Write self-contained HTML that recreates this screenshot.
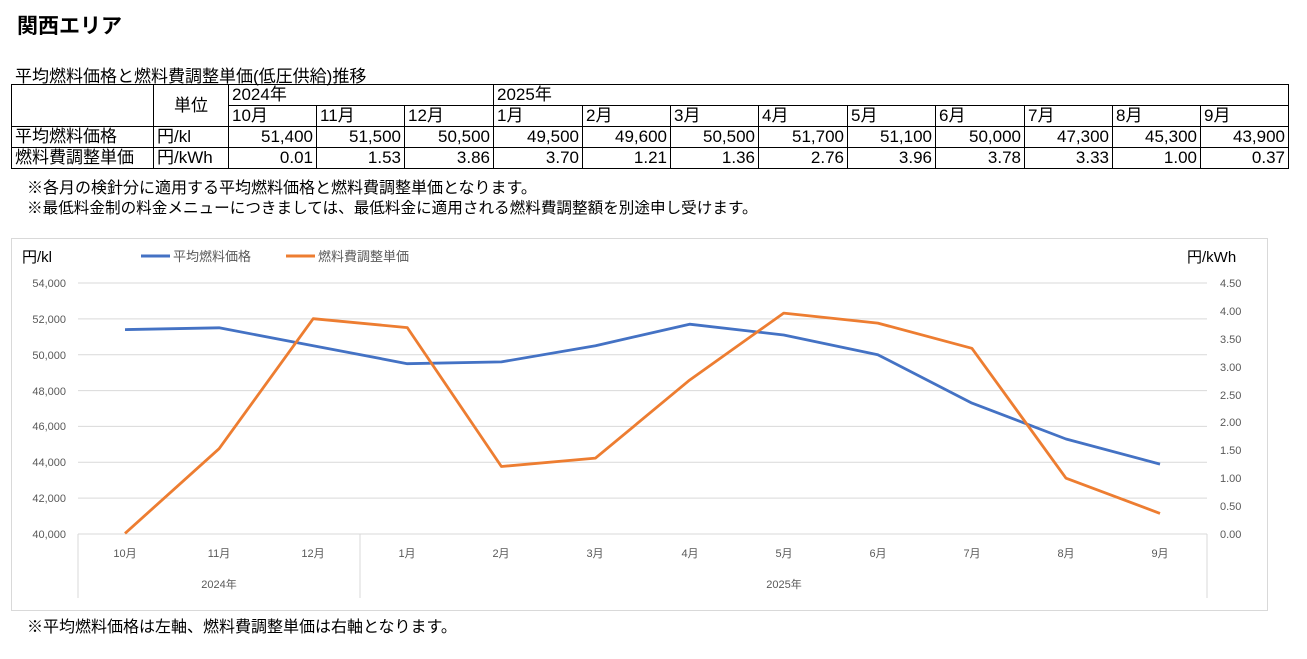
<!DOCTYPE html>
<html><head><meta charset="utf-8"><style>
body{margin:0;background:#fff;width:1307px;height:659px;overflow:hidden;font-family:"Liberation Sans","Noto Sans CJK JP",sans-serif;position:relative}
.t{position:absolute;white-space:nowrap;color:#000}
table{position:absolute;left:11px;top:84px;border-collapse:collapse;font-size:17px;table-layout:fixed}
td{border:1.5px solid #000;padding:0 3px;height:20px;line-height:20px;white-space:nowrap;overflow:hidden}
td.r{text-align:right}
</style></head><body>
<div class="t" style="left:17px;top:10px;font-size:21px;font-weight:bold">関西エリア</div>
<div class="t" style="left:15px;top:62px;font-size:17px">平均燃料価格と燃料費調整単価(低圧供給)推移</div>
<table>
<colgroup><col style="width:142px"><col style="width:75px"><col style="width:88px"><col style="width:88px"><col style="width:89px"><col style="width:89px"><col style="width:88px"><col style="width:88px"><col style="width:89px"><col style="width:88px"><col style="width:89px"><col style="width:88px"><col style="width:88px"><col style="width:88px"></colgroup>
<tr><td rowspan="2"></td><td rowspan="2" style="text-align:center">単位</td><td colspan="3">2024年</td><td colspan="9">2025年</td></tr>
<tr><td>10月</td><td>11月</td><td>12月</td><td>1月</td><td>2月</td><td>3月</td><td>4月</td><td>5月</td><td>6月</td><td>7月</td><td>8月</td><td>9月</td></tr>
<tr><td>平均燃料価格</td><td>円/kl</td><td class="r">51,400</td><td class="r">51,500</td><td class="r">50,500</td><td class="r">49,500</td><td class="r">49,600</td><td class="r">50,500</td><td class="r">51,700</td><td class="r">51,100</td><td class="r">50,000</td><td class="r">47,300</td><td class="r">45,300</td><td class="r">43,900</td></tr>
<tr><td>燃料費調整単価</td><td>円/kWh</td><td class="r">0.01</td><td class="r">1.53</td><td class="r">3.86</td><td class="r">3.70</td><td class="r">1.21</td><td class="r">1.36</td><td class="r">2.76</td><td class="r">3.96</td><td class="r">3.78</td><td class="r">3.33</td><td class="r">1.00</td><td class="r">0.37</td></tr>
</table>
<div class="t" style="left:27px;top:174px;font-size:16px">※各月の検針分に適用する平均燃料価格と燃料費調整単価となります。</div>
<div class="t" style="left:27px;top:196px;font-size:15.6px">※最低料金制の料金メニューにつきましては、最低料金に適用される燃料費調整額を別途申し受けます。</div>
<svg style="position:absolute;left:0;top:0" width="1307" height="659" font-family="Liberation Sans,Noto Sans CJK JP,sans-serif">
<rect x="11.5" y="238.5" width="1256" height="372" fill="none" stroke="#d9d9d9"/>
<g stroke="#d9d9d9" stroke-width="1">
<line x1="78" x2="1207" y1="283" y2="283"/><line x1="78" x2="1207" y1="318.9" y2="318.9"/><line x1="78" x2="1207" y1="354.7" y2="354.7"/><line x1="78" x2="1207" y1="390.6" y2="390.6"/><line x1="78" x2="1207" y1="426.4" y2="426.4"/><line x1="78" x2="1207" y1="462.3" y2="462.3"/><line x1="78" x2="1207" y1="498.1" y2="498.1"/><line x1="78" x2="1207" y1="534" y2="534"/>
<line x1="78" x2="78" y1="534" y2="598"/><line x1="360" x2="360" y1="534" y2="598"/><line x1="1207" x2="1207" y1="534" y2="598"/>
</g>
<g font-size="11" fill="#595959" text-anchor="end">
<text x="66" y="287">54,000</text><text x="66" y="323">52,000</text><text x="66" y="359">50,000</text><text x="66" y="395">48,000</text><text x="66" y="430">46,000</text><text x="66" y="466">44,000</text><text x="66" y="502">42,000</text><text x="66" y="538">40,000</text>
</g>
<g font-size="11" fill="#595959">
<text x="1220" y="287">4.50</text><text x="1220" y="315">4.00</text><text x="1220" y="343">3.50</text><text x="1220" y="371">3.00</text><text x="1220" y="399">2.50</text><text x="1220" y="426">2.00</text><text x="1220" y="454">1.50</text><text x="1220" y="482">1.00</text><text x="1220" y="510">0.50</text><text x="1220" y="538">0.00</text>
</g>
<g font-size="11" fill="#595959" text-anchor="middle">
<text x="125" y="557">10月</text><text x="219" y="557">11月</text><text x="313" y="557">12月</text><text x="407" y="557">1月</text><text x="501" y="557">2月</text><text x="595" y="557">3月</text><text x="690" y="557">4月</text><text x="784" y="557">5月</text><text x="878" y="557">6月</text><text x="972" y="557">7月</text><text x="1066" y="557">8月</text><text x="1160" y="557">9月</text>
<text x="219" y="588">2024年</text><text x="784" y="588">2025年</text>
</g>
<text x="22" y="262" font-size="15" fill="#000">円/kl</text>
<text x="1187" y="262" font-size="15" fill="#000">円/kWh</text>
<line x1="141" x2="170" y1="256" y2="256" stroke="#4472c4" stroke-width="3"/>
<text x="173" y="261" font-size="13" fill="#595959">平均燃料価格</text>
<line x1="286" x2="315" y1="256" y2="256" stroke="#ed7d31" stroke-width="3"/>
<text x="318" y="261" font-size="13" fill="#595959">燃料費調整単価</text>
<polyline fill="none" stroke="#4472c4" stroke-width="2.8" stroke-linejoin="round" points="125,329.6 219.1,327.8 313.2,345.7 407.3,363.7 501.4,361.9 595.5,345.7 689.6,324.2 783.7,335 877.8,354.7 971.9,403.1 1066,439 1160,464.1"/>
<polyline fill="none" stroke="#ed7d31" stroke-width="2.8" stroke-linejoin="round" points="125,533.4 219.1,448.7 313.2,318.7 407.3,327.6 501.4,466.5 595.5,458.1 689.6,380.1 783.7,313.1 877.8,323.1 971.9,348.3 1066,478.2 1160,513.4"/>
</svg>
<div class="t" style="left:27px;top:613px;font-size:16px">※平均燃料価格は左軸、燃料費調整単価は右軸となります。</div>
</body></html>
